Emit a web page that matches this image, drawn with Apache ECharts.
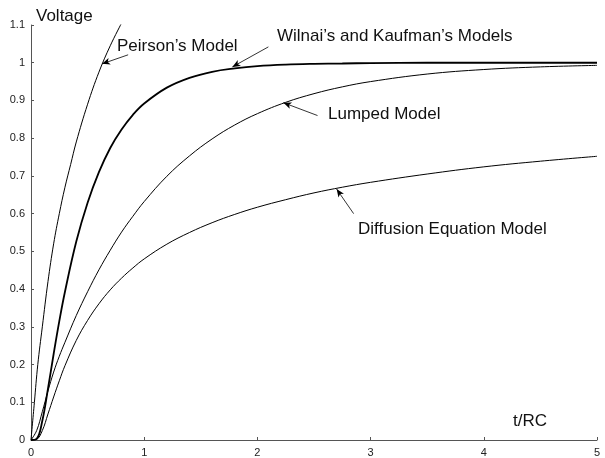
<!DOCTYPE html>
<html>
<head>
<meta charset="utf-8">
<script src="https://cdn.jsdelivr.net/npm/echarts@6/dist/echarts.min.js"></script>
<style>
html,body{margin:0;padding:0;background:#fff;}
#chart{width:605px;height:458px;}
</style>
</head>
<body>
<div id="chart"></div>
<script>
// ---- data ----
var tValues   = [0, 0.05, 0.1, 0.15, 0.2, 0.25, 0.3, 0.4, 0.5, 0.6, 0.7, 0.8, 0.9, 1.0, 1.2, 1.4, 1.6, 1.8, 2.0, 2.25, 2.5, 2.75, 3.0, 3.5, 4.0, 4.5, 5.0];
var wilnaiKaufman = [0, 0.003, 0.051, 0.136, 0.228, 0.315, 0.393, 0.526, 0.629, 0.710, 0.774, 0.823, 0.862, 0.892, 0.934, 0.960, 0.976, 0.985, 0.991, 0.995, 0.997, 0.998, 0.999, 1.0, 1.0, 1.0, 1.0];
var lumped        = [0, 0.025, 0.075, 0.13, 0.18, 0.222, 0.259, 0.33, 0.393, 0.451, 0.503, 0.551, 0.593, 0.632, 0.699, 0.753, 0.798, 0.835, 0.865, 0.895, 0.918, 0.936, 0.950, 0.970, 0.982, 0.989, 0.993];
var diffusion     = [0, 0.002, 0.025, 0.069, 0.114, 0.157, 0.197, 0.264, 0.317, 0.361, 0.398, 0.429, 0.456, 0.480, 0.519, 0.550, 0.576, 0.598, 0.617, 0.637, 0.655, 0.670, 0.683, 0.705, 0.724, 0.739, 0.752];
var peirsonT      = [0, 0.03, 0.06, 0.1, 0.15, 0.2, 0.25, 0.3, 0.35, 0.4, 0.5, 0.6, 0.7, 0.8];
var peirson       = [0, 0.1, 0.2, 0.3, 0.42, 0.52, 0.60, 0.67, 0.73, 0.79, 0.89, 0.975, 1.045, 1.105];
var xTicks = [0, 1, 2, 3, 4, 5];
var yTicks = [0, 0.1, 0.2, 0.3, 0.4, 0.5, 0.6, 0.7, 0.8, 0.9, 1, 1.1];
// annotation arrows: [labelTail, pointHead] in data units
var arrows = {
  peirson:  [[0.858, 1.021], [0.628, 0.997]],
  wilnai:   [[2.097, 1.042], [1.779, 0.989]],
  lumped:   [[2.531, 0.860], [2.23, 0.894]],
  diffusion:[[2.85, 0.600], [2.70, 0.665]]
};

function pairs(xs, ys){ return xs.map(function(x,i){ return [x, ys[i]]; }); }
function arrowLine(a){
  return {
    silent: true, animation: false,
    symbol: ['none', 'arrow'], symbolSize: [5, 8],
    lineStyle: {color: '#000', width: 0.8, type: 'solid'},
    label: {show: false},
    data: [[{coord: a[0]}, {coord: a[1]}]]
  };
}

var chart = echarts.init(document.getElementById('chart'), null, {renderer: 'canvas'});
var font = 'Liberation Sans, Arial, Helvetica, sans-serif';
var axisCommon = {
  axisLine: {show: true, lineStyle: {color: '#555', width: 1}},
  axisTick: {show: true, inside: true, length: 3, lineStyle: {color: '#555'}},
  splitLine: {show: false},
  axisLabel: {color: '#222', fontSize: 11, fontFamily: font}
};
var option = {
  animation: false,
  backgroundColor: '#fff',
  grid: {left: 31, right: 8, top: 25, bottom: 16, containLabel: false},
  xAxis: Object.assign({
    type: 'value', min: xTicks[0], max: xTicks[xTicks.length-1], interval: 1
  }, axisCommon, {axisLabel: {color: '#222', fontSize: 11, fontFamily: font, margin: 7}}),
  yAxis: Object.assign({
    type: 'value', min: yTicks[0], max: yTicks[yTicks.length-1], interval: 0.1
  }, axisCommon, {axisLabel: {color: '#222', fontSize: 11, fontFamily: font, margin: 6,
      formatter: function(v){ return String(Math.round(v*10)/10); }}}),
  series: [
    {type: 'line', name: 'Peirson', data: pairs(peirsonT, peirson), showSymbol: false, smooth: 0.4,
     lineStyle: {color: '#000', width: 1}, markLine: arrowLine(arrows.peirson)},
    {type: 'line', name: 'Wilnai', data: pairs(tValues, wilnaiKaufman), showSymbol: false, smooth: 0.4,
     lineStyle: {color: '#000', width: 1.8}, markLine: arrowLine(arrows.wilnai)},
    {type: 'line', name: 'Lumped', data: pairs(tValues, lumped), showSymbol: false, smooth: 0.4,
     lineStyle: {color: '#000', width: 1}, markLine: arrowLine(arrows.lumped)},
    {type: 'line', name: 'Diffusion', data: pairs(tValues, diffusion), showSymbol: false, smooth: 0.4,
     lineStyle: {color: '#000', width: 1}, markLine: arrowLine(arrows.diffusion)}
  ],
  graphic: [
    {type: 'text', left: 36, top: 8, style: {text: 'Voltage', font: '17px ' + font, fill: '#111'}},
    {type: 'text', left: 513, top: 413, style: {text: 't/RC', font: '17px ' + font, fill: '#111'}},
    {type: 'text', left: 117, top: 38, style: {text: 'Peirson\u2019s Model', font: '17px ' + font, fill: '#111'}},
    {type: 'text', left: 277, top: 28, style: {text: 'Wilnai\u2019s and Kaufman\u2019s Models', font: '17px ' + font, fill: '#111'}},
    {type: 'text', left: 328, top: 106, style: {text: 'Lumped Model', font: '17px ' + font, fill: '#111'}},
    {type: 'text', left: 358, top: 221, style: {text: 'Diffusion Equation Model', font: '17px ' + font, fill: '#111'}}
  ]
};
chart.setOption(option);
</script>
</body>
</html>
